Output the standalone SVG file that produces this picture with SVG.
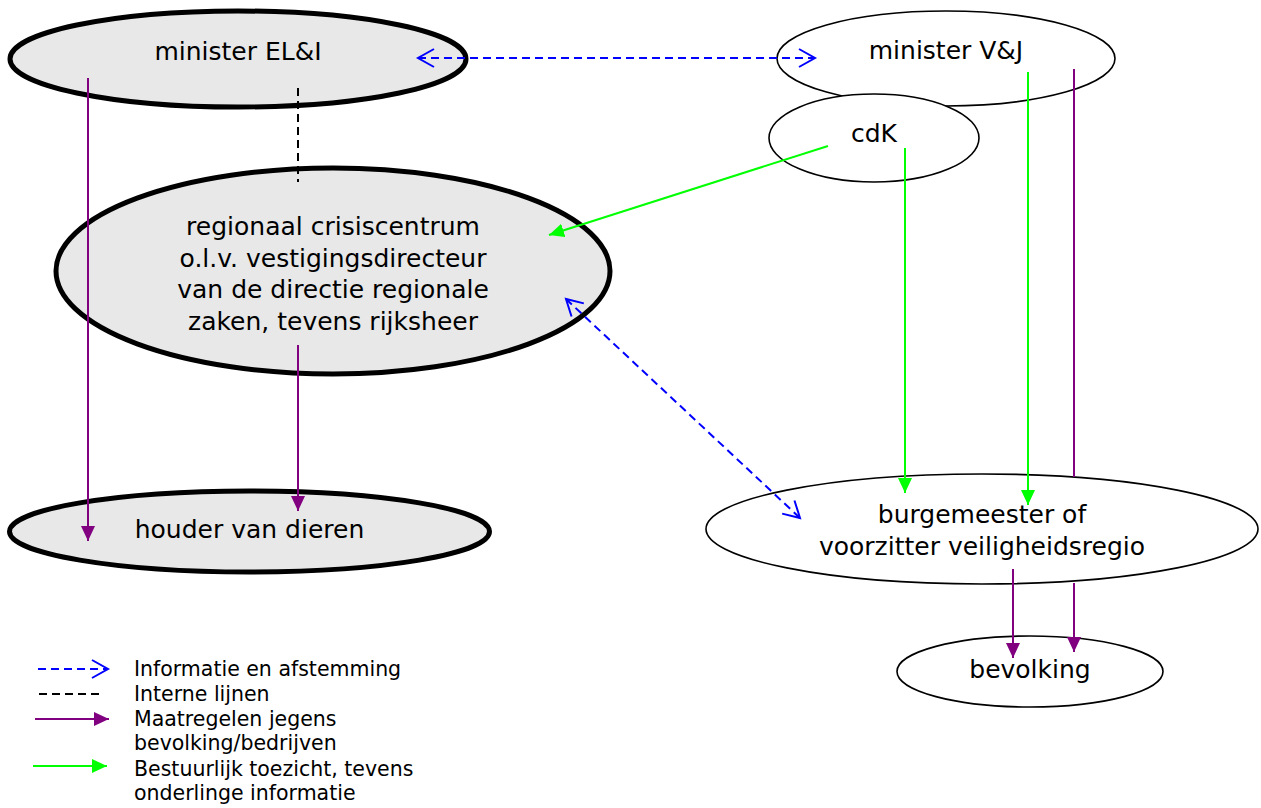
<svg xmlns="http://www.w3.org/2000/svg" width="1261" height="808" viewBox="0 0 1261 808">
<defs>
<style>
.thick{fill:#e8e8e8;stroke:#000;stroke-width:5}
.thin{fill:#fff;stroke:#000;stroke-width:1.6}
.lbl{font-family:"DejaVu Sans",sans-serif;font-size:25px;fill:#000;text-anchor:middle}
.leg{font-family:"DejaVu Sans",sans-serif;font-size:20.5px;fill:#000}
.info{stroke:#0000ff;stroke-width:2;stroke-dasharray:8 5;fill:none}
.intern{stroke:#000;stroke-width:2;stroke-dasharray:8 5;fill:none}
.maat{stroke:#800080;stroke-width:2;fill:none}
.best{stroke:#00ff00;stroke-width:2;fill:none}
</style>
<marker id="openBlue" markerUnits="userSpaceOnUse" markerWidth="20" markerHeight="22" refX="17" refY="10" orient="auto-start-reverse" viewBox="0 0 20 22">
<path d="M1,1 L17,10 L1,19" fill="none" stroke="#0000ff" stroke-width="2"/>
</marker>
<marker id="arrPurple" markerUnits="userSpaceOnUse" markerWidth="15" markerHeight="14" refX="15" refY="7" orient="auto" viewBox="0 0 15 14">
<path d="M0,0 L15,7 L0,14 z" fill="#800080"/>
</marker>
<marker id="arrGreen" markerUnits="userSpaceOnUse" markerWidth="15" markerHeight="14" refX="15" refY="7" orient="auto" viewBox="0 0 15 14">
<path d="M0,0 L15,7 L0,14 z" fill="#00ff00"/>
</marker>
</defs>
<rect width="1261" height="808" fill="#fff"/>

<g id="minister-eli">
<ellipse class="thick" cx="238" cy="59" rx="228" ry="48"/>
<text class="lbl" x="238" y="60">minister EL&amp;I</text>
</g>
<g id="minister-vj">
<ellipse class="thin" cx="946" cy="58.5" rx="169" ry="47.5"/>
<text class="lbl" x="946" y="59">minister V&amp;J</text>
</g>
<g id="cdk">
<ellipse class="thin" cx="874" cy="138" rx="105" ry="44"/>
<text class="lbl" x="874" y="142">cdK</text>
</g>
<g id="regionaal-crisiscentrum">
<ellipse class="thick" cx="333" cy="271" rx="277" ry="103"/>
<text class="lbl" x="333" y="235">regionaal crisiscentrum</text>
<text class="lbl" x="333" y="267">o.l.v. vestigingsdirecteur</text>
<text class="lbl" x="333" y="298">van de directie regionale</text>
<text class="lbl" x="333" y="330">zaken, tevens rijksheer</text>
</g>
<g id="houder-van-dieren">
<ellipse class="thick" cx="249.5" cy="531.5" rx="240" ry="40.5"/>
<text class="lbl" x="249.5" y="538">houder van dieren</text>
</g>
<g id="burgemeester">
<ellipse class="thin" cx="982" cy="529" rx="276" ry="55"/>
<text class="lbl" x="982" y="523">burgemeester of</text>
<text class="lbl" x="982" y="555">voorzitter veiligheidsregio</text>
</g>
<g id="bevolking">
<ellipse class="thin" cx="1030" cy="671.5" rx="133" ry="35.5"/>
<text class="lbl" x="1030" y="678">bevolking</text>
</g>

<g id="connectors">
<line class="info" x1="418" y1="58" x2="815" y2="58" marker-start="url(#openBlue)" marker-end="url(#openBlue)"/>
<line class="intern" x1="298" y1="88" x2="298" y2="182"/>
<line class="maat" x1="88" y1="78" x2="88" y2="541" marker-end="url(#arrPurple)"/>
<line class="maat" x1="298" y1="345" x2="298" y2="511" marker-end="url(#arrPurple)"/>
<line class="best" x1="828" y1="146" x2="549" y2="235" marker-end="url(#arrGreen)"/>
<line class="best" x1="905" y1="148" x2="905" y2="493" marker-end="url(#arrGreen)"/>
<line class="best" x1="1028" y1="72" x2="1028" y2="505" marker-end="url(#arrGreen)"/>
<line class="maat" x1="1074" y1="69" x2="1074" y2="477"/>
<line class="maat" x1="1074" y1="583" x2="1074" y2="652" marker-end="url(#arrPurple)"/>
<line class="maat" x1="1013" y1="569" x2="1013" y2="658" marker-end="url(#arrPurple)"/>
<line class="info" x1="566" y1="299" x2="800" y2="518" marker-start="url(#openBlue)" marker-end="url(#openBlue)"/>
</g>

<g id="legend">
<line class="info" x1="38" y1="669" x2="108" y2="669" marker-end="url(#openBlue)"/>
<text class="leg" x="134" y="676">Informatie en afstemming</text>
<line class="intern" x1="39" y1="694" x2="100" y2="694"/>
<text class="leg" x="134" y="701">Interne lijnen</text>
<line class="maat" x1="35" y1="719" x2="109" y2="719" marker-end="url(#arrPurple)"/>
<text class="leg" x="134" y="726">Maatregelen jegens</text>
<text class="leg" x="134" y="750">bevolking/bedrijven</text>
<line class="best" x1="33" y1="766" x2="107" y2="766" marker-end="url(#arrGreen)"/>
<text class="leg" x="134" y="776">Bestuurlijk toezicht, tevens</text>
<text class="leg" x="134" y="800">onderlinge informatie</text>
</g>
</svg>
